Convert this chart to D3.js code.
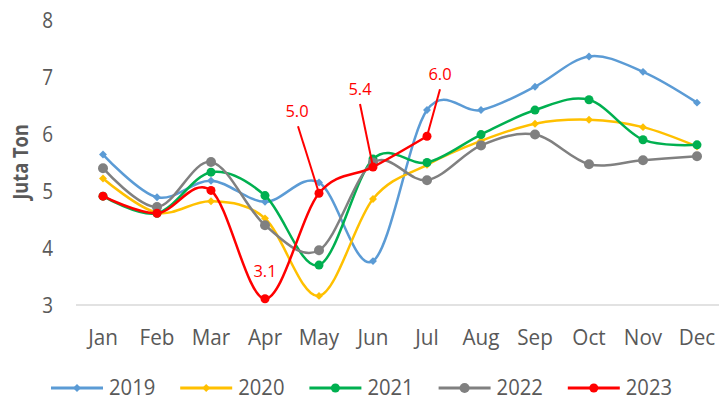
<!DOCTYPE html>
<html lang="en">
<head>
  <meta charset="UTF-8">
  <title>Juta Ton per bulan</title>
  <style>
    body {
      margin: 0;
      padding: 0;
      background-color: #ffffff;
      font-family: "Open Sans", Lato, sans-serif;
    }
    svg text {
      fill: #595959;
    }
  </style>
</head>
<body>
  <div id="chart"></div>

  <script src="https://d3js.org/d3.v7.min.js"></script>
  <script>
    // data (juta ton)
    const months = ['Jan', 'Feb', 'Mar', 'Apr', 'May', 'Jun', 'Jul', 'Aug', 'Sep', 'Oct', 'Nov', 'Dec'];
    const years = ['2019', '2020', '2021', '2022', '2023'];
    const v2019 = [5.64, 4.89, 5.18, 4.81, 5.15, 3.77, 6.42, 6.42, 6.83, 7.36, 7.09, 6.55];
    const v2020 = [5.22, 4.62, 4.82, 4.52, 3.16, 4.86, 5.46, 5.88, 6.18, 6.25, 6.12, 5.78];
    const v2021 = [4.91, 4.61, 5.33, 4.92, 3.70, 5.56, 5.50, 5.99, 6.42, 6.60, 5.90, 5.81];
    const v2022 = [5.40, 4.72, 5.51, 4.40, 3.96, 5.50, 5.19, 5.80, 5.99, 5.47, 5.54, 5.61];
    const v2023 = [4.91, 4.61, 5.01, 3.11, 4.96, 5.42, 5.96];
    const yTicks = [3, 4, 5, 6, 7, 8];
    const labelled2023 = ['Apr', 'May', 'Jun', 'Jul'];

    const width = 719, height = 401;
    const colors = ['#5b9bd5', '#ffc000', '#00b050', '#808080', '#ff0000'];
    const markers = ['diamond', 'diamond', 'circle', 'circle', 'circle'];
    const squash = 0.92; // Calibri-ish text is a little narrower than Open Sans

    const series = [v2019, v2020, v2021, v2022, v2023].map((vals, i) => ({
      name: years[i],
      color: colors[i],
      marker: markers[i],
      points: vals.map((v, j) => ({ month: months[j], value: v }))
    }));

    const svg = d3.select('#chart').append('svg')
      .attr('width', width)
      .attr('height', height);

    const x = d3.scalePoint().domain(months).range([76, 724]).padding(0.5);
    const y = d3.scaleLinear().domain([3, 8]).range([305, 20]);

    // squashed text helper
    function label(g, tx, ty, str, size, anchor, sx) {
      return g.append('text')
        .attr('transform', `translate(${tx},${ty}) scale(${sx || squash},1)`)
        .attr('text-anchor', anchor || 'middle')
        .style('font-size', size + 'px')
        .text(str);
    }

    // baseline
    svg.append('line')
      .attr('x1', 76).attr('x2', width)
      .attr('y1', y(3)).attr('y2', y(3))
      .attr('stroke', '#d9d9d9')
      .attr('stroke-width', 1.5);

    // y tick labels
    const yAxis = svg.append('g');
    yTicks.forEach(t => label(yAxis, 53, y(t) + 7.5, d3.format('d')(t), 21, 'end', 0.9));

    // x tick labels
    const xAxis = svg.append('g');
    months.forEach(m => label(xAxis, x(m), 345, m, 22, 'middle', 0.94));

    // axis title
    svg.append('text')
      .attr('transform', 'translate(28,162) rotate(-90) scale(0.87,1)')
      .attr('text-anchor', 'middle')
      .style('font-size', '21px')
      .style('font-weight', 'bold')
      .text('Juta Ton');

    const line = d3.line()
      .x(d => x(d.month))
      .y(d => y(d.value))
      .curve(d3.curveCardinal.tension(0));

    const diamond = d3.symbol().type(d3.symbolDiamond2).size(40);

    function drawMarker(g, s, cx, cy) {
      if (s.marker === 'diamond') {
        g.append('path')
          .attr('d', diamond())
          .attr('transform', `translate(${cx},${cy})`)
          .attr('fill', s.color);
      } else {
        g.append('circle')
          .attr('cx', cx).attr('cy', cy)
          .attr('r', s.name === '2022' ? 5 : 4.5)
          .attr('fill', s.color);
      }
    }

    // lines + markers
    series.forEach(s => {
      const g = svg.append('g');
      g.append('path')
        .datum(s.points)
        .attr('d', line)
        .attr('fill', 'none')
        .attr('stroke', s.color)
        .attr('stroke-width', 2.5);
      s.points.forEach(p => drawMarker(g, s, x(p.month), y(p.value)));
    });

    // data labels for 2023 (offsets from the point, leader start offset)
    const labelOffsets = {
      Apr: { dx: 0, dy: -22, lx: null },
      May: { dx: -22, dy: -76, lx: -21, ly: -67 },
      Jun: { dx: -13, dy: -72, lx: -13, ly: -63 },
      Jul: { dx: 13, dy: -56, lx: 13, ly: -47 }
    };
    const red = series[4];
    const annot = svg.append('g');
    red.points.filter(p => labelled2023.includes(p.month)).forEach(p => {
      const o = labelOffsets[p.month];
      const px = x(p.month), py = y(p.value);
      if (o.lx !== null) {
        annot.append('line')
          .attr('x1', px + o.lx).attr('y1', py + o.ly)
          .attr('x2', px).attr('y2', py)
          .attr('stroke', red.color)
          .attr('stroke-width', 2);
      }
      label(annot, px + o.dx, py + o.dy, d3.format('.1f')(p.value), 16.5, 'middle', 1)
        .style('fill', red.color);
    });

    // legend
    const legend = svg.append('g');
    series.forEach((s, i) => {
      const lx = 51 + i * 129.2;
      const ly = 388;
      legend.append('line')
        .attr('x1', lx).attr('x2', lx + 52)
        .attr('y1', ly).attr('y2', ly)
        .attr('stroke', s.color)
        .attr('stroke-width', 3);
      drawMarker(legend, s, lx + 26, ly);
      label(legend, lx + 58, 394.5, s.name, 22, 'start', 0.92);
    });
  </script>
</body>
</html>
